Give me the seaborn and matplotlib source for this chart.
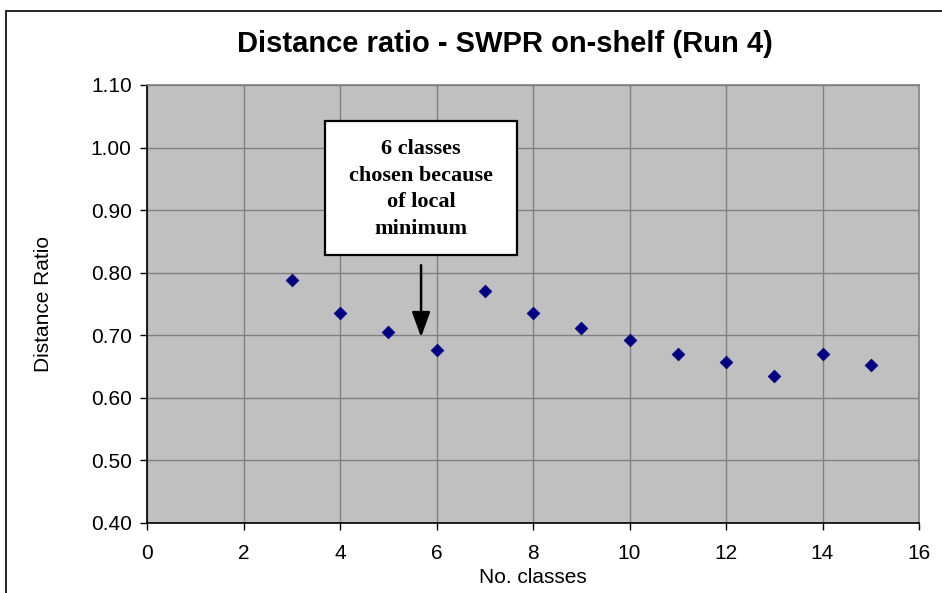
import matplotlib
matplotlib.use("Agg")
import matplotlib.pyplot as plt
import seaborn as sns
import pandas as pd
from matplotlib.patches import Rectangle

n_classes = [3, 4, 5, 6, 7, 8, 9, 10, 11, 12, 13, 14, 15]
distance_ratio = [0.789, 0.735, 0.706, 0.677, 0.771, 0.735, 0.712, 0.693, 0.670, 0.658, 0.635, 0.670, 0.652]
x_ticks = [0, 2, 4, 6, 8, 10, 12, 14, 16]
y_ticks = [0.40, 0.50, 0.60, 0.70, 0.80, 0.90, 1.00, 1.10]

df = pd.DataFrame({"No. classes": n_classes, "Distance Ratio": distance_ratio})

sns.set_style("white")
plt.rcParams["font.family"] = ["Liberation Sans", "DejaVu Sans"]
plt.rcParams["text.color"] = "black"
plt.rcParams["axes.labelcolor"] = "black"
plt.rcParams["xtick.color"] = "black"
plt.rcParams["ytick.color"] = "black"

W, H = 942, 593
fig = plt.figure(figsize=(W/100, H/100), dpi=100)
ax = fig.add_axes([147/W, 1 - 523/H, (919 - 147)/W, (523 - 85)/H])

# outer chart border
fig.patches.append(Rectangle((6/W, -0.05), 1.1, 1 - 11/H + 0.05, transform=fig.transFigure,
                             fill=False, edgecolor="black", linewidth=1.2))

ax.set_facecolor("#C0C0C0")
sns.scatterplot(data=df, x="No. classes", y="Distance Ratio", ax=ax, marker="D",
                color="#000080", s=42, edgecolor="#000080", linewidth=0.5, zorder=3)

ax.set_xlim(0, 16)
ax.set_ylim(0.40, 1.10)
ax.set_xticks(x_ticks)
ax.set_xticklabels([str(t) for t in x_ticks])
ax.set_yticks(y_ticks)
ax.set_yticklabels([f"{t:.2f}" for t in y_ticks])
ax.grid(True, color="#808080", linewidth=1.0)
ax.set_axisbelow(True)
ax.tick_params(axis="both", direction="out", length=5, width=1, color="black",
               labelsize=15, bottom=True, left=True)
ax.tick_params(axis="x", pad=10)
ax.tick_params(axis="y", pad=6)
for s in ["left", "bottom"]:
    ax.spines[s].set_color("black")
    ax.spines[s].set_linewidth(1.2)
for s in ["top", "right"]:
    ax.spines[s].set_color("#808080")
    ax.spines[s].set_linewidth(1.2)

ax.set_xlabel("No. classes", fontsize=15, labelpad=4)
ax.set_ylabel("Distance Ratio", fontsize=15, labelpad=27)
fig.text(505/W, 1 - 44/H, "Distance ratio - SWPR on-shelf (Run 4)", ha="center", va="center",
         fontsize=21, fontweight="bold")

# annotation box and arrow
fig.patches.append(Rectangle((325/W, 1 - 255/H), 192/W, 134/H, transform=fig.transFigure,
                             facecolor="white", edgecolor="black", linewidth=1.6, zorder=5))
fig.text(421/W, 1 - 189/H, "6 classes\nchosen because\nof local\nminimum", ha="center", va="center",
         fontsize=16, fontweight="bold", family=["Liberation Serif", "DejaVu Serif"],
         linespacing=1.45, zorder=6)
ax.annotate("", xy=(5.68, 0.697), xytext=(5.68, 0.812),
            arrowprops=dict(arrowstyle="-|>,head_width=0.4,head_length=1.1", color="black",
                            lw=1.8, mutation_scale=14, shrinkA=0, shrinkB=0))

fig.savefig("out.png", dpi=100)
